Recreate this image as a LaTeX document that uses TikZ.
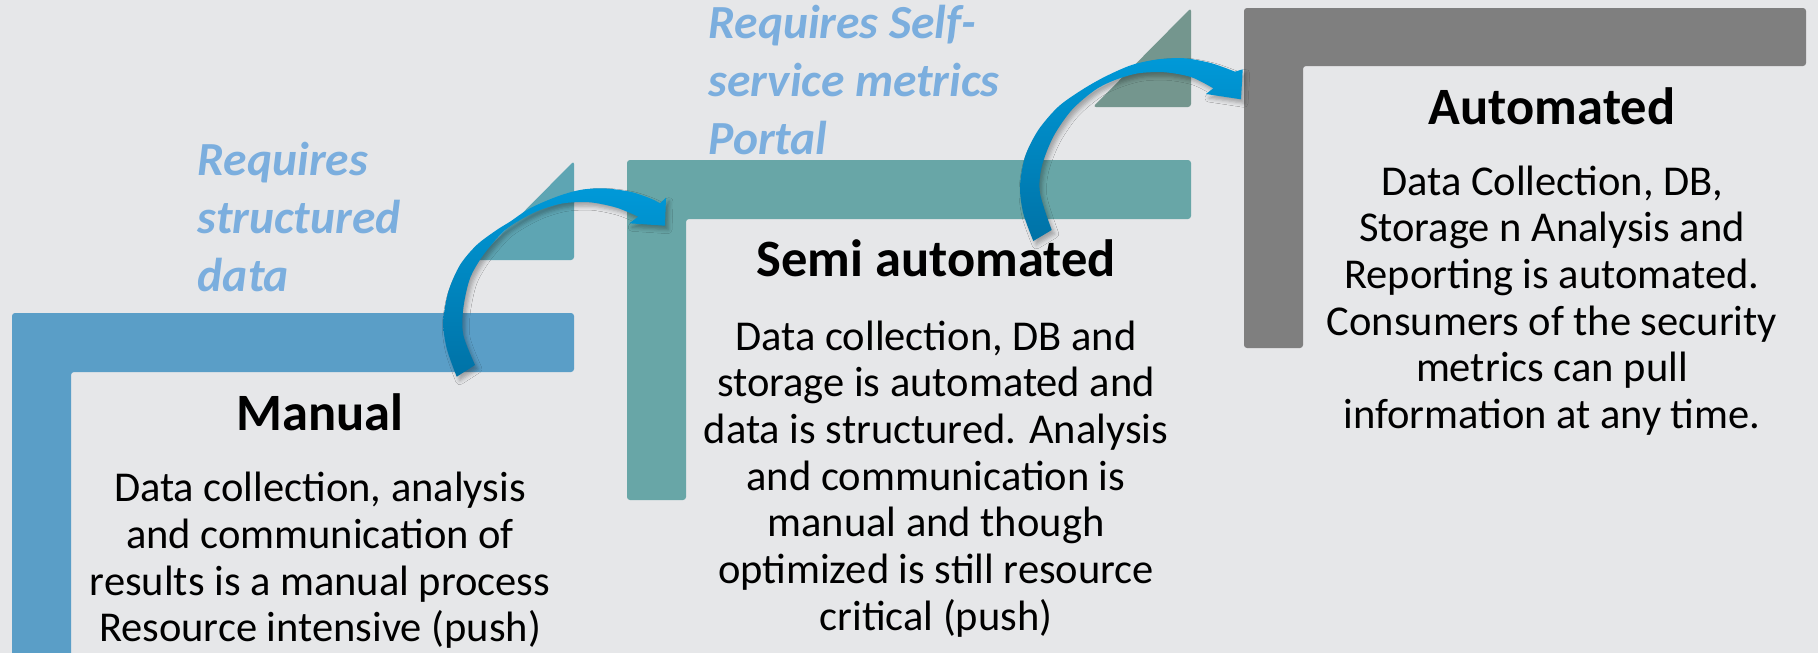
\documentclass[tikz,border=0pt]{standalone}
\usepackage{fontspec}
\setmainfont{Carlito}
\usetikzlibrary{shadows.blur}

\definecolor{paper}{HTML}{E6E7E9}
\definecolor{manualblue}{HTML}{5A9EC7}
\definecolor{semiteal}{HTML}{68A6A7}
\definecolor{autogrey}{HTML}{7F7F7F}
\definecolor{tealtri}{HTML}{5EA5B3}
\definecolor{greytri}{HTML}{74968E}
\definecolor{reqblue}{HTML}{7BAEDE}
\definecolor{arrowtop}{HTML}{0099D8}
\definecolor{arrowbot}{HTML}{0072A6}

\tikzset{
  stagebar/.style={rounded corners=3pt},
  % multi-line nodes: the base anchor sits on the baseline of the last line
  stagetitle/.style={anchor=base, inner sep=0pt, font=\fontsize{52.5}{60}\selectfont\bfseries},
  stagebody/.style={anchor=base, inner sep=0pt, align=center, font=\fontsize{42.5}{46.7}\selectfont},
  reqlabel/.style={anchor=base west, inner sep=0pt, align=left, text=reqblue, font=\fontsize{47.5}{58}\selectfont\bfseries\itshape},
  ribbon/.style={top color=arrowtop, bottom color=arrowbot,
    blur shadow={shadow xshift=3pt, shadow yshift=-4pt, shadow blur radius=4pt, shadow opacity=30}},
}

\begin{document}
\begin{tikzpicture}[x=1pt, y=-1pt]
  \useasboundingbox (0,0) rectangle (1818,653);
  \clip (0,0) rectangle (1818,653);
  \fill[paper] (0,0) rectangle (1818,653);

  % small corner triangles behind the steps
  \fill[tealtri, stagebar] (574,161) -- (574,260) -- (476,260) -- cycle;
  \fill[greytri, stagebar] (1191,8) -- (1191,107) -- (1093,107) -- cycle;

  % the three L-shaped steps
  \fill[manualblue, stagebar] (12,313) -- (574,313) -- (574,372) -- (71,372) -- (71,680) -- (12,680) -- cycle;
  \fill[semiteal, stagebar] (627,160) -- (1191,160) -- (1191,219) -- (686,219) -- (686,500) -- (627,500) -- cycle;
  \fill[autogrey, stagebar] (1244,8) -- (1806,8) -- (1806,66) -- (1303,66) -- (1303,348) -- (1244,348) -- cycle;

  % curved ribbon arrows between the steps
  \path[ribbon]
    plot[smooth, tension=0.5] coordinates {(456.7,376.7) (446.7,348.3) (443.3,321.7) (448.3,291.7) (460,265) (476.7,245) (496.7,230) (510,221.7) (530,208.3) (556.7,196.7) (580,190) (603.3,188.3) (630,191.7) (650,198.3) (660,203.3)}
    -- (666,197.7) -- (665,225.7) -- (629.3,223.3)
    -- plot[smooth, tension=0.5] coordinates {(638.3,216.7) (616.7,207.7) (590,202.3) (563.3,203.3) (540,210) (520,220) (503.3,231.7) (483.3,255) (470,278.3) (463.3,308.3) (463.3,335) (475,365)}
    -- cycle;
  \path[ribbon]
    plot[smooth, tension=0.5] coordinates {(1033.3,241) (1023.3,213.3) (1020,186.7) (1025,156.7) (1038.3,130) (1058.3,106.7) (1081.7,90) (1105,76.7) (1131.7,65) (1158.3,59.3) (1185,58.3) (1211.7,63.3) (1235,71.7)}
    -- (1242.7,69.3) -- (1241,99.3) -- (1206,94)
    -- plot[smooth, tension=0.5] coordinates {(1213.3,88.3) (1191.7,77.3) (1165,72.3) (1138.3,73.3) (1115,80) (1095,90) (1071.7,110) (1053.3,136.7) (1041.7,166.7) (1040,193.3) (1051.7,230)}
    -- cycle;

  % requirement labels
  \node[reqlabel] (req1) at (197.7,291.7) {Requires\\structured\\data};
  \node[reqlabel] (req2) at (708.5,154) {Requires Self-\\service metrics\\Portal};

  % stage titles and descriptions
  \node[stagetitle] (manualT) at (320,430) {Manual};
  \node[stagebody] (manualB) at (320,641.7) {Data collection, analysis\\and communication of\\results is a manual process\\Resource intensive (push)};

  \node[stagetitle] (semiT) at (936,276.7) {Semi automated};
  \node[stagebody] (semiB) at (936,630.2) {Data collection, DB and\\storage is automated and\\data is structured. Analysis\\and communication is\\manual and though\\optimized is still resource\\critical (push)};

  \node[stagetitle] (autoT) at (1552,124) {Automated};
  \node[stagebody] (autoB) at (1552,428.5) {Data Collection, DB,\\Storage n Analysis and\\Reporting is automated.\\Consumers of the security\\metrics can pull\\information at any time.};
\end{tikzpicture}
\end{document}
